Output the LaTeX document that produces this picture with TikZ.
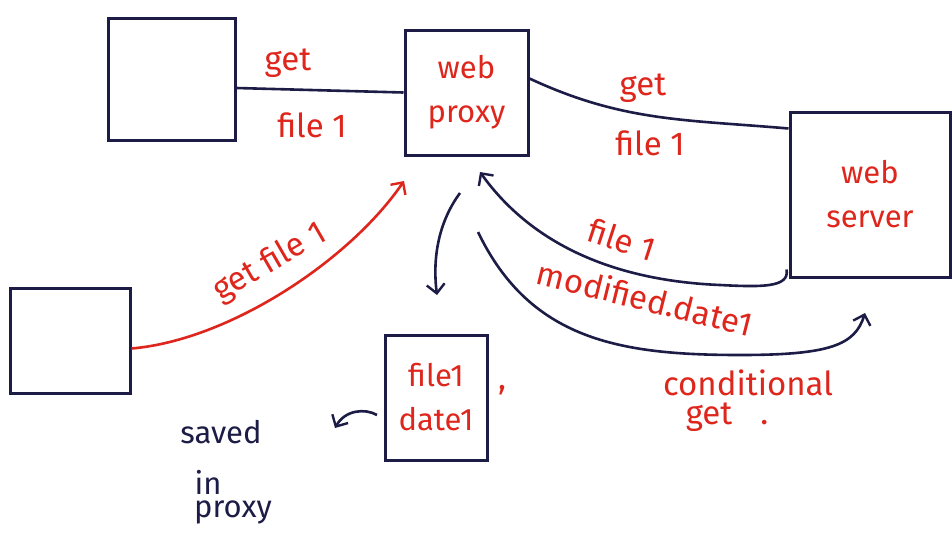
\documentclass[tikz,border=0pt]{standalone}
\usepackage{fontspec}
\setmainfont{Fira Sans}
\usetikzlibrary{arrows.meta}
\definecolor{ink}{RGB}{28,28,70}
\definecolor{pen}{RGB}{222,38,28}
\begin{document}
\begin{tikzpicture}[x=1pt,y=-1pt,
  box/.style={draw=ink,line width=3pt,text=pen,align=center,inner sep=0pt,
    font=\fontsize{31}{44}\selectfont},
  lbl/.style={text=pen,inner sep=0pt,font=\fontsize{33}{36}\selectfont},
  note/.style={text=ink,inner sep=0pt,font=\fontsize{31}{34}\selectfont},
  wire/.style={draw=ink,line width=2.6pt},
  redwire/.style={draw=pen,line width=2.6pt},
  tip/.style={-{Straight Barb[length=9pt,width=18pt,line width=2.4pt]}}]
\fill[white] (0,0) rectangle (952,542);
\useasboundingbox (0,0) rectangle (952,542);

% hosts and caches
\node[box,minimum width=127pt,minimum height=122pt] (client) at (171.5,79) {};
\node[box,minimum width=123pt,minimum height=125pt] (proxy) at (466.5,92.5) {web\\proxy};
\node[box,minimum width=160pt,minimum height=165pt] (server) at (870,194.5) {web\\server};
\node[box,minimum width=120pt,minimum height=105pt] (client2) at (70,340.5) {};
\node[box,minimum width=102pt,minimum height=125pt] (cache) at (436,397.5) {file1\\date1};

% client -> proxy -> server
\draw[wire] ([yshift=-9pt]client.east) -- (proxy.west);
\node[lbl] (g1) at (288,63) {get};
\node[lbl] (f1) at (312,125) {file 1};
\draw[wire] ([yshift=14pt]proxy.east) to[out=-25,in=175] ([yshift=66pt]server.west);
\node[lbl] (g2) at (643,88) {get};
\node[lbl] (f2) at (650,143) {file 1};

% second client asks the proxy
\coordinate (q1) at (404,181);
\draw[redwire,tip] ([yshift=-8pt]client2.east) .. controls (230,340) and (350,260) .. (q1);
\node[lbl,rotate=30] (g3) at (270,263) {get file 1};

% server answers the proxy
\coordinate (r1) at (480,172);
\coordinate (r2) at (720,285);
\draw[wire,tip] ([xshift=-2pt,yshift=9pt]server.south west)
  .. controls (790,288) and (760,287) .. (r2)
  .. controls (600,280) and (525,235) .. (r1);
\node[lbl,rotate=-18] (f3) at (622,240) {file 1};
\node[lbl,rotate=-14] (m3) at (645,298) {modified.date1};

% conditional get from proxy to server
\coordinate (c0) at (478,232);
\coordinate (c1) at (740,355);
\coordinate (c2) at (865,313);
\draw[wire,tip] (c0) .. controls (530,340) and (620,355) .. (c1)
  .. controls (830,355) and (855,345) .. (c2);
\node[lbl] (cg) at (748,383) {conditional};
\node[lbl] (cg2) at (727,417) {get\hspace{28pt}.};

% proxy stores the copy
\coordinate (p0) at (460,193);
\coordinate (p1) at (437,295);
\draw[wire,tip] (p0) .. controls (440,220) and (432,255) .. (p1);
\node[lbl] (comma) at (502,390) {,};

\coordinate (s0) at (377,415);
\coordinate (s1) at (335,428);
\draw[wire,tip] (s0) .. controls (365,408) and (345,410) .. (s1);
\node[note] (sv) at (221,432) {saved};
\node[note] (in) at (208,482) {in};
\node[note] (px) at (233,512) {proxy};
\end{tikzpicture}
\end{document}
